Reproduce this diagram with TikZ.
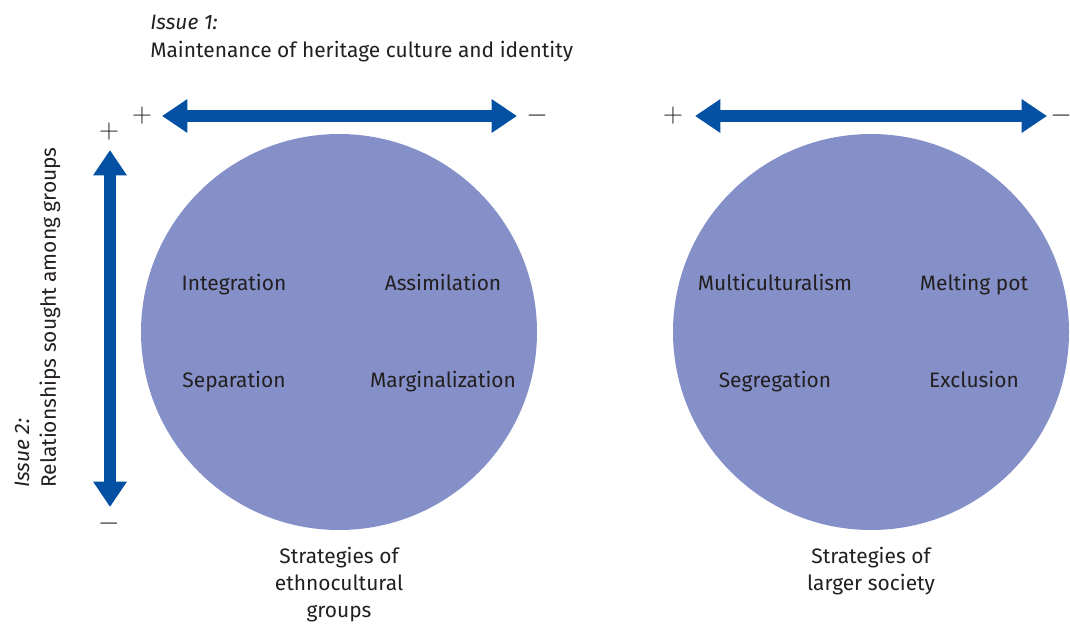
\documentclass[tikz,border=0pt]{standalone}
\usepackage{fontspec}
\setmainfont{Fira Sans}
\usetikzlibrary{arrows.meta}
\definecolor{axisblue}{RGB}{4,80,162}
\definecolor{discfill}{RGB}{133,144,200}
\definecolor{inktext}{RGB}{35,31,32}
\begin{document}
\begin{tikzpicture}[x=0.75pt, y=-0.75pt, font=\fontsize{15.7}{20.25}\selectfont, text=inktext,
  axis/.style={draw=axisblue, line width=9pt,
    {Triangle[length=19pt,width=24pt]}-{Triangle[length=19pt,width=24pt]}},
  disc/.style={circle, fill=discfill, minimum size=297pt, inner sep=0pt},
  lbl/.style={inner sep=0pt},
  strat/.style={inner sep=0pt, anchor=base},
  sign/.style={inner sep=0pt, font=\fontsize{21}{21}\selectfont}]
  \clip (0,0) rectangle (1070,628);
  % discs
  \node[disc] (ethno) at (339,332) {};
  \node[disc] (larger) at (871,332) {};
  % issue 1
  \node[lbl, anchor=west] (iss1) at (150,22) {\itshape Issue 1:};
  \node[lbl, anchor=west] (iss1txt) at (150,52) {Maintenance of heritage culture and identity};
  % issue 2
  \node[lbl, anchor=west, rotate=90] (iss2) at (22,488) {\itshape Issue 2:};
  \node[lbl, anchor=west, rotate=90] (iss2txt) at (50,488) {Relationships sought among groups};
  % signs
  \node[sign] (lplus) at (142,116) {$+$};
  \node[sign] (lminus) at (537,116) {$-$};
  \node[sign] (rplus) at (673,116) {$+$};
  \node[sign] (rminus) at (1061,116) {$-$};
  \node[sign] (vplus) at (109,132) {$+$};
  \node[sign] (vminus) at (109,524) {$-$};
  % axes
  \coordinate (h1a) at (162,116);
  \coordinate (h1b) at (517,116);
  \coordinate (h2a) at (695,116);
  \coordinate (h2b) at (1047,116);
  \coordinate (va) at (110,150);
  \coordinate (vb) at (110,507);
  \draw[axis] (h1a) -- (h1b);
  \draw[axis] (h2a) -- (h2b);
  \draw[axis] (va) -- (vb);
  % strategies, left
  \node[strat] (integ) at (234,290) {Integration};
  \node[strat] (assim) at (443,290) {Assimilation};
  \node[strat] (separ) at (234,387) {Separation};
  \node[strat] (margi) at (443,387) {Marginalization};
  % strategies, right
  \node[strat] (multi) at (775,290) {Multiculturalism};
  \node[strat] (melt) at (974,290) {Melting pot};
  \node[strat] (segre) at (775,387) {Segregation};
  \node[strat] (exclu) at (974,387) {Exclusion};
  % captions
  \node[lbl, align=center, anchor=north] (ethnocap) at (339,547) {Strategies of\\ethnocultural\\groups};
  \node[lbl, align=center, anchor=north] (largercap) at (871,547) {Strategies of\\larger society};
\end{tikzpicture}
\end{document}
